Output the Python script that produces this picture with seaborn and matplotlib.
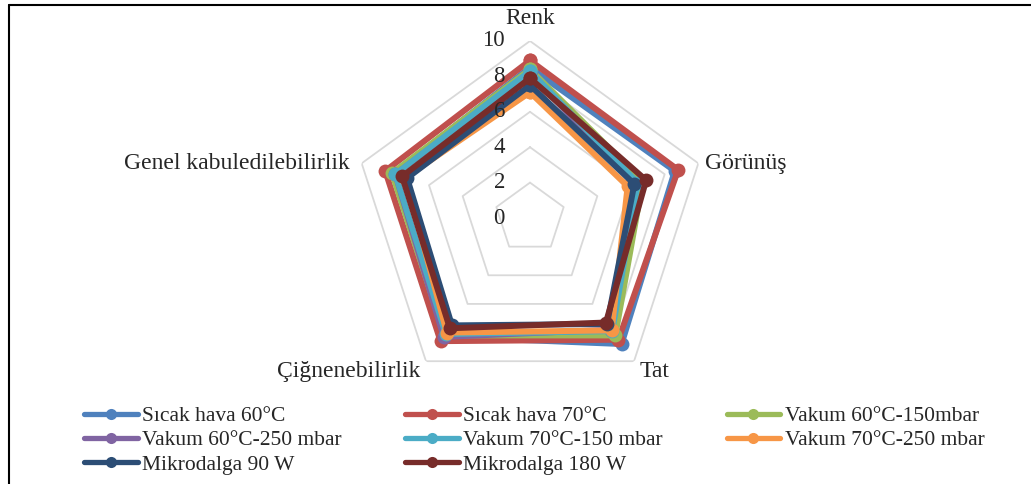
import numpy as np
import pandas as pd
import matplotlib
matplotlib.use("Agg")
import matplotlib.pyplot as plt
from matplotlib.lines import Line2D
import seaborn as sns

# kriterler (saat yonunde, ustten baslayarak)
kriterler = ["Renk", "Görünüş", "Tat", "Çiğnenebilirlik", "Genel kabuledilebilirlik"]

sicak_60 = [8.5, 8.6, 8.8, 8.3, 8.1]
sicak_70 = [8.9, 8.8, 8.5, 8.6, 8.6]
vakum_60_150 = [8.4, 6.7, 8.2, 8.2, 8.2]
vakum_60_250 = [8.2, 6.2, 7.8, 8.3, 8.0]
vakum_70_150 = [8.3, 6.4, 7.9, 8.1, 8.0]
vakum_70_250 = [7.1, 5.8, 7.85, 8.0, 7.4]
mikro_90 = [7.5, 6.2, 7.4, 7.5, 7.3]
mikro_180 = [7.9, 6.9, 7.3, 7.7, 7.6]

seriler = ["Sıcak hava 60°C", "Sıcak hava 70°C", "Vakum 60°C-150mbar",
           "Vakum 60°C-250 mbar", "Vakum 70°C-150 mbar", "Vakum 70°C-250 mbar",
           "Mikrodalga 90 W", "Mikrodalga 180 W"]
degerler = [sicak_60, sicak_70, vakum_60_150, vakum_60_250,
            vakum_70_150, vakum_70_250, mikro_90, mikro_180]
renkler = ["#4F81BD", "#C0504D", "#9BBB59", "#8064A2",
           "#4BACC6", "#F79646", "#2C4D75", "#772C2A"]

eksen_ticks = [0, 2, 4, 6, 8, 10]

# uzun tablo, cokgen kapansin diye ilk nokta sona eklenir
n = len(kriterler)
aci = np.linspace(0, 2 * np.pi, n, endpoint=False)
aci_kapali = np.append(aci, 2 * np.pi)
satirlar = []
for s, v in zip(seriler, degerler):
    v_kapali = list(v) + [v[0]]
    for a, d in zip(aci_kapali, v_kapali):
        satirlar.append({"theta": a, "deger": d, "seri": s})
df = pd.DataFrame(satirlar)

sns.set_style("white")
plt.rcParams["font.family"] = ["Liberation Serif", "DejaVu Serif"]

W, H = 1031, 484
fig = plt.figure(figsize=(W / 100, H / 100), dpi=100)
cx, cy, R = 530, 218, 177
ax = fig.add_axes([(cx - R) / W, (H - cy - R) / H, 2 * R / W, 2 * R / H], projection="polar")
ax.set_theta_offset(np.pi / 2)
ax.set_theta_direction(-1)
ax.patch.set_visible(False)
ax.spines["polar"].set_visible(False)
ax.grid(False)

# besgen izgara
for lv in eksen_ticks[1:]:
    ax.plot(aci_kapali, [lv] * (n + 1), color="#D9D9D9", lw=1.3, zorder=1)

sns.lineplot(data=df, x="theta", y="deger", hue="seri", hue_order=seriler,
             palette=renkler, sort=False, estimator=None, marker="o",
             markersize=10, markeredgewidth=0, linewidth=4.3, legend=False, ax=ax)
for ln in ax.get_lines():
    ln.set_solid_joinstyle("round")

ax.set_ylim(0, 10)
ax.set_xticks([])
ax.set_yticks([])
ax.set_xlabel("")
ax.set_ylabel("")

for t in eksen_ticks:
    ax.annotate(str(t), xy=(0, t), xytext=(-25, 0), textcoords="offset pixels",
                ha="right", va="center", fontsize=16.5, annotation_clip=False)

etiket_ayar = [((0, 12), "center", "bottom"), ((7, 0), "left", "center"),
               ((6, 0), "left", "top"), ((-6, 0), "right", "top"),
               ((-12, 0), "right", "center")]
for a, k, (off, ha, va) in zip(aci, kriterler, etiket_ayar):
    ax.annotate(k, xy=(a, 10), xytext=off, textcoords="offset pixels",
                ha=ha, va=va, fontsize=17, annotation_clip=False)

# legend satir sirali
handles = [Line2D([], [], color=c, lw=3.8, marker="o", markersize=8, markeredgewidth=0,
                  solid_capstyle="round") for c in renkler]
sira = [0, 3, 6, 1, 4, 7, 2, 5]
fig.legend([handles[i] for i in sira], [seriler[i] for i in sira], ncol=3,
           loc="upper left", bbox_to_anchor=(84 / W, 1 - 406 / H), frameon=False,
           fontsize=15.5, handlelength=2.5, handletextpad=0.2, columnspacing=2.95,
           labelspacing=0.2, borderpad=0, borderaxespad=0)

# cerceve (ust ve sol)
fig.add_artist(Line2D([8.5 / W, 1], [1 - 4.5 / H, 1 - 4.5 / H], color="black", lw=1.5,
                      transform=fig.transFigure))
fig.add_artist(Line2D([8.5 / W, 8.5 / W], [0, 1 - 4.5 / H], color="black", lw=1.5,
                      transform=fig.transFigure))

fig.savefig("out.png", dpi=100)
